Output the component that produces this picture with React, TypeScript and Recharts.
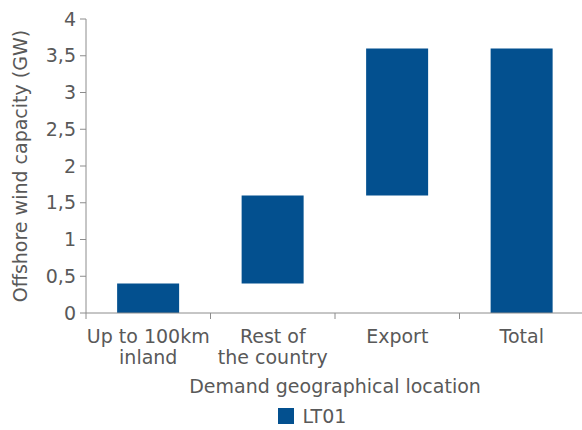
import React from "react";
import { BarChart, Bar, XAxis, YAxis, Legend } from "recharts";

const CATEGORIES = ["Up to 100km\ninland", "Rest of\nthe country", "Export", "Total"];
const BASE = [0, 0.4, 1.6, 0];
const LT01 = [0.4, 1.2, 2.0, 3.6];
const Y_TICKS = [0, 0.5, 1, 1.5, 2, 2.5, 3, 3.5, 4];

const data = CATEGORIES.map((c, i) => ({ name: c, base: BASE[i], lt01: LT01[i] }));

const FONT = "'DejaVu Sans', sans-serif";
const FS = 19;
const TEXT = "#595959";
const AXIS = "#8c8c8c";
const BLUE = "#03508f";

function CategoryTick(props) {
  const { x, y, payload, index, visibleTicksCount } = props;
  const axisY = y - 10;
  const half = payload.offset ?? 62;
  const lines = String(payload.value).split("\n");
  const last = index === (visibleTicksCount ?? CATEGORIES.length) - 1;
  return (
    <g>
      <line x1={x - half} x2={x - half} y1={axisY} y2={axisY + 6} stroke={AXIS} />
      {last && <line x1={x + half} x2={x + half} y1={axisY} y2={axisY + 6} stroke={AXIS} />}
      {lines.map((l, i) => (
        <text
          key={i}
          x={x}
          y={axisY + 30 + i * 21}
          textAnchor="middle"
          fill={TEXT}
          fontSize={FS}
          fontFamily={FONT}
        >
          {l}
        </text>
      ))}
    </g>
  );
}

function YLabel({ viewBox }) {
  const cx = viewBox.x + 20;
  const cy = viewBox.y + viewBox.height / 2;
  return (
    <text
      x={cx}
      y={cy}
      transform={`rotate(-90 ${cx} ${cy})`}
      textAnchor="middle"
      dominantBaseline="central"
      fill={TEXT}
      fontSize={FS}
      fontFamily={FONT}
    >
      Offshore wind capacity (GW)
    </text>
  );
}

function LegendContent() {
  return (
    <div
      style={{
        height: 28,
        display: "flex",
        alignItems: "center",
        justifyContent: "center",
        paddingLeft: 40,
        fontFamily: FONT,
        fontSize: FS,
        color: TEXT,
      }}
    >
      <span style={{ width: 16, height: 16, background: BLUE, display: "inline-block", marginRight: 9 }} />
      <span>LT01</span>
    </div>
  );
}

export default function App() {
  return (
    <div style={{ position: "absolute", left: 0, top: 0, width: 582, height: 430, overflow: "hidden", background: "#fff" }}>
      <BarChart
        width={584}
        height={430}
        data={data}
        margin={{ top: 19, right: 0, bottom: 0, left: 0 }}
        barCategoryGap="25%"
      >
        <XAxis
          dataKey="name"
          interval={0}
          height={89}
          tickLine={false}
          tickSize={6}
          tickMargin={4}
          axisLine={{ stroke: AXIS }}
          tick={<CategoryTick />}
          label={{
            value: "Demand geographical location",
            position: "insideBottom",
            offset: 9,
            fill: TEXT,
            fontSize: FS,
            fontFamily: FONT,
          }}
        />
        <YAxis
          width={86}
          domain={[0, 4]}
          ticks={Y_TICKS}
          interval={0}
          tickSize={6}
          tickMargin={4}
          axisLine={{ stroke: AXIS }}
          tickLine={{ stroke: AXIS }}
          tick={{ fill: TEXT, fontSize: FS, fontFamily: FONT }}
          tickFormatter={(v) => String(v).replace(".", ",")}
          label={<YLabel />}
        />
        <Legend verticalAlign="bottom" content={<LegendContent />} />
        <Bar dataKey="base" stackId="w" fill="transparent" legendType="none" isAnimationActive={false} />
        <Bar dataKey="lt01" name="LT01" stackId="w" fill={BLUE} isAnimationActive={false} />
      </BarChart>
    </div>
  );
}
